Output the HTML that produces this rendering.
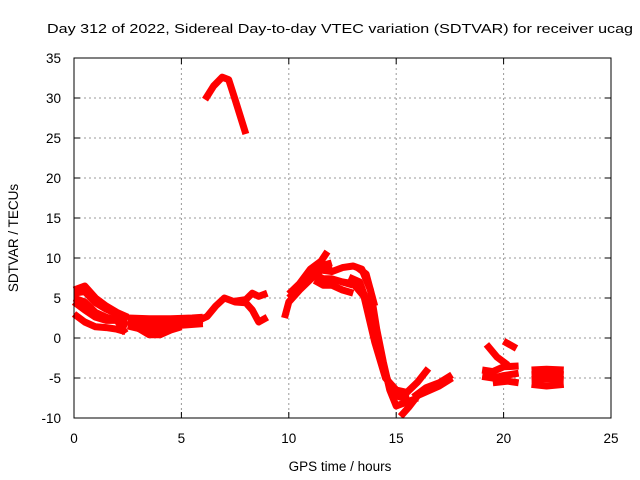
<!DOCTYPE html>
<html><head><meta charset="utf-8"><style>
html,body{margin:0;padding:0;background:#fff;}
svg{display:block;font-family:"Liberation Sans",sans-serif;}
</style></head><body>
<svg id="chart" width="640" height="480" viewBox="0 0 640 480">
<text x="47" y="33" font-size="13" textLength="586" lengthAdjust="spacingAndGlyphs">Day 312 of 2022, Sidereal Day-to-day VTEC variation (SDTVAR) for receiver ucag</text>
<g id="grid"></g>
<g id="axes"></g>
<g id="series"></g>
<rect x="74" y="58" width="537" height="360" fill="none" stroke="#000" stroke-width="1"/>
<text x="340" y="471" font-size="13.5" text-anchor="middle">GPS time / hours</text>
<text transform="translate(18,238) rotate(-90)" font-size="13.5" text-anchor="middle">SDTVAR / TECUs</text>
</svg>
<script>
const xTicks=[0,5,10,15,20,25];
const yTicks=[-10,-5,0,5,10,15,20,25,30,35];
const arcTop=[[6.1,29.8],[6.5,31.5],[6.9,32.6],[7.2,32.3],[7.5,29.8],[8.0,25.5]];
const earlyA=[[0,6],[0.5,6.5],[1,5],[1.5,4],[2,3.2],[2.5,2.6]];
const earlyA2=[[0,5.6],[0.5,5.8],[1,4.4],[1.5,3.6],[2,3],[2.5,2.3]];
const earlyB=[[0,5],[0.5,4.5],[1,3.2],[1.5,2.6],[2,2.2],[2.5,1.6]];
const earlyC=[[0,3],[0.5,2],[1,1.4],[1.5,1.3],[2,1.1],[2.4,0.8]];
const earlyD=[[0,4.5],[0.5,3.5],[1,2.6],[1.5,2.2],[2,2.2],[2.4,0.6]];
const midA=[[2.5,2.5],[3.5,2.4],[4.5,2.4],[5.5,2.5],[6,2.6]];
const midA2=[[2.5,2],[3.5,1.9],[4.5,2],[5.5,2.1],[6,2.2]];
const midB=[[2.5,1.5],[3,1.2],[4,1.2],[5,1.6],[6,1.8]];
const midC=[[3,1.2],[3.5,0.4],[4,0.4],[4.5,1],[5,1.4]];
const riseA=[[5.8,2.2],[6.2,2.7],[6.6,4],[7,5],[7.5,4.5],[8,4.4],[8.3,3.5],[8.6,2],[9,2.6]];
const riseB=[[7.5,4.6],[8,4.8],[8.3,5.6],[8.6,5.2],[9,5.6]];
const stormA=[[9.8,2.5],[10,4.5],[10.5,6],[11,7.3],[11.5,8.5],[12,9]];
const stormA2=[[10,5],[10.5,6.3],[11,7.8],[11.5,9],[12,9.4]];
const stormB=[[10,5.5],[10.5,6.8],[11,8.6],[11.5,9.6],[11.8,10.8]];
const stormC=[[11.2,7.2],[11.6,6.6],[12,6.6],[12.5,6],[13,5.6]];
const stormC2=[[11.2,8],[11.6,7.4],[12,7.4],[12.5,7],[13,6.6]];
const stormD=[[11.5,8.5],[12,8.3],[12.5,8.8],[13,9],[13.4,8.6],[13.8,6],[14.1,1],[14.4,-3],[14.7,-6.5],[15,-8.5],[15.5,-8],[16,-7.5]];
const stormE=[[12.5,7],[13,6.8],[13.5,5.2],[14,-0.5],[14.5,-5],[15,-6.5],[15.5,-6.8],[16,-5.5],[16.5,-3.8]];
const stormE2=[[12.8,7.6],[13.3,7],[13.7,4],[14.1,-1],[14.5,-4.5],[14.8,-7],[15.2,-7.4],[15.6,-7.2]];
const stormF=[[13.2,8.8],[13.6,8],[14,4]];
const recovA=[[15.2,-9.8],[15.6,-8.6],[16,-7.2],[16.5,-6.6],[17,-6],[17.6,-5]];
const recovB=[[15.8,-7.4],[16.4,-6.2],[17,-5.6],[17.6,-4.6]];
const lateA=[[19,-4],[19.5,-4.2],[20,-3.6],[20.7,-3.5]];
const lateB=[[19,-4.8],[19.5,-5],[20,-4.7],[20.7,-4.4]];
const lateC=[[19.2,-0.8],[19.7,-2.4],[20.2,-3.4]];
const lateD=[[20,-0.4],[20.6,-1.3]];
const lateE=[[19.5,-5.6],[20.2,-5.4],[20.7,-5.6]];
const endA=[[21.3,-4],[22,-3.9],[22.8,-4]];
const endA2=[[21.3,-4.6],[22,-4.5],[22.8,-4.6]];
const endB=[[21.3,-5.2],[22,-5.1],[22.8,-5.2]];
const endC=[[21.3,-5.8],[22,-6],[22.8,-5.8]];
const allSeries=[arcTop,earlyA,earlyA2,earlyB,earlyC,earlyD,midA,midA2,midB,midC,riseA,riseB,stormA,stormA2,stormB,stormC,stormC2,stormD,stormE,stormE2,stormF,recovA,recovB,lateA,lateB,lateC,lateD,lateE,endA,endA2,endB,endC];

const NS="http://www.w3.org/2000/svg";
const X0=74,X1=611,Y0=418,Y1=58;
function sx(h){return X0+(h-0)/(25-0)*(X1-X0);}
function sy(v){return Y0-(v+10)/(35+10)*(Y0-Y1);}
const grid=document.getElementById('grid'),axes=document.getElementById('axes'),ser=document.getElementById('series');
xTicks.forEach(t=>{
  const x=sx(t);
  if(t>0&&t<25){const l=document.createElementNS(NS,'line');
  
  
  l.setAttribute('x1',x);l.setAttribute('x2',x);l.setAttribute('y1',Y1);l.setAttribute('y2',Y0);
  l.setAttribute('stroke','#999');l.setAttribute('stroke-dasharray','2,3');grid.appendChild(l);}
  const tk=document.createElementNS(NS,'path');
  
  
  tk.setAttribute('d',`M${x},${Y0}v-6M${x},${Y1}v6`);tk.setAttribute('stroke','#000');axes.appendChild(tk);
  const tx=document.createElementNS(NS,'text');
  
  
  tx.setAttribute('x',x);tx.setAttribute('y',443);tx.setAttribute('font-size','13.5');tx.setAttribute('text-anchor','middle');
  tx.textContent=t;axes.appendChild(tx);
});
yTicks.forEach(t=>{
  const y=sy(t);
  if(t>-10&&t<35){const l=document.createElementNS(NS,'line');
  
  
  l.setAttribute('x1',X0);l.setAttribute('x2',X1);l.setAttribute('y1',y);l.setAttribute('y2',y);
  l.setAttribute('stroke','#999');l.setAttribute('stroke-dasharray','2,3');grid.appendChild(l);}
  const tk=document.createElementNS(NS,'path');
  
  
  tk.setAttribute('d',`M${X0},${y}h6M${X1},${y}h-6`);tk.setAttribute('stroke','#000');axes.appendChild(tk);
  const tx=document.createElementNS(NS,'text');
  
  
  tx.setAttribute('x',61);tx.setAttribute('y',y+5);tx.setAttribute('font-size','13.5');tx.setAttribute('text-anchor','end');
  tx.textContent=t;axes.appendChild(tx);
});
allSeries.forEach(s=>{
  const p=document.createElementNS(NS,'polyline');
  
  
  p.setAttribute('points',s.map(d=>sx(d[0])+','+sy(d[1])).join(' '));
  p.setAttribute('fill','none');p.setAttribute('stroke','#f00');p.setAttribute('stroke-width','7');
  p.setAttribute('stroke-linejoin','round');
  ser.appendChild(p);
});
</script>
</body></html>
